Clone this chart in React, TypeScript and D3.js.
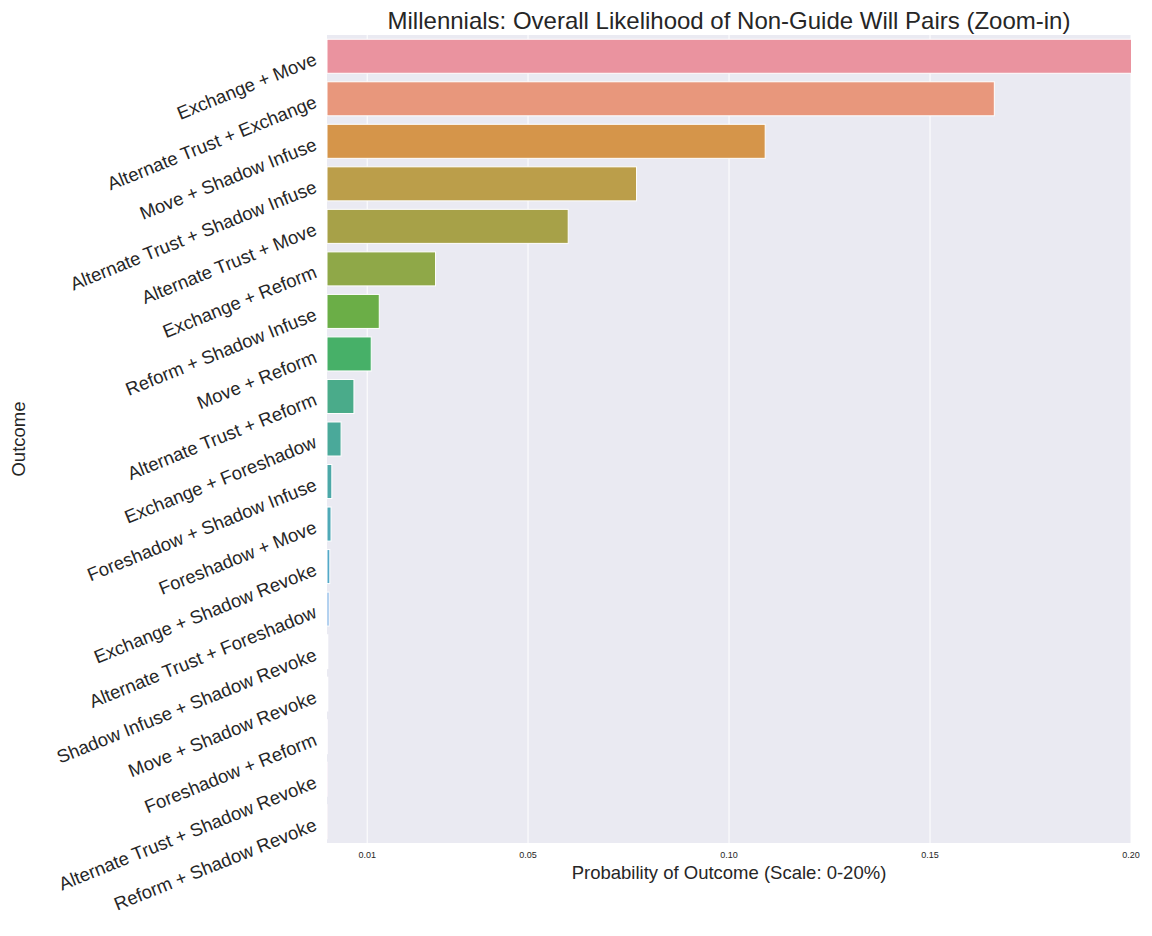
import React from "react";
import * as d3 from "d3";

const categories = ["Exchange + Move","Alternate Trust + Exchange","Move + Shadow Infuse","Alternate Trust + Shadow Infuse","Alternate Trust + Move","Exchange + Reform","Reform + Shadow Infuse","Move + Reform","Alternate Trust + Reform","Exchange + Foreshadow","Foreshadow + Shadow Infuse","Foreshadow + Move","Exchange + Shadow Revoke","Alternate Trust + Foreshadow","Shadow Infuse + Shadow Revoke","Move + Shadow Revoke","Foreshadow + Reform","Alternate Trust + Shadow Revoke","Reform + Shadow Revoke"];
const values = [0.205,0.166,0.109,0.077,0.060,0.027,0.013,0.011,0.0067,0.0035,0.0012,0.001,0.0007,0.0005,0.0002,0.0002,0.0001,0.00005,0.00003];
const colors = ["#ea939f","#e8977c","#d5954a","#bb9e4a","#a7a148","#8fa848","#6bae47","#47b068","#4aab8a","#4aa99a","#4ca8a8","#4fa9b7","#53a9c8","#6aa5e0","#a19ee8","#c092e6","#d88fde","#e690c5","#e892b2"];
const ticks = [0.01,0.05,0.10,0.15,0.20];
const tickLabels = ["0.01","0.05","0.10","0.15","0.20"];

export default function App() {
  const L = 327, R = 1131, T = 35, B = 843;
  const x = d3.scaleLinear().domain([0, 0.2]).range([L, R]);
  const y = d3.scaleBand().domain(categories).range([T, B]).paddingInner(0.2).paddingOuter(0.1);
  const font = "Arial, 'Liberation Sans', sans-serif";
  return (
    <svg width={1152} height={936} style={{ position: "absolute", left: 0, top: 0, fontFamily: font }}>
      <defs><clipPath id="c"><rect x={L} y={T} width={R - L} height={B - T} /></clipPath></defs>
      <rect x={L} y={T} width={R - L} height={B - T} fill="#eaeaf2" />
      {ticks.map((t) => <line key={t} x1={x(t)} x2={x(t)} y1={T} y2={B} stroke="#fff" strokeWidth={1} />)}
      <g clipPath="url(#c)">
        {categories.map((c, i) => (
          <rect key={c} x={x(0)} y={y(c)!} width={Math.max(0, x(values[i]) - x(0))} height={y.bandwidth()} fill={colors[i]} stroke="#fff" strokeWidth={1} />
        ))}
      </g>
      {ticks.map((t, i) => <text key={t} x={x(t)} y={B + 15} fontSize={9} textAnchor="middle" fill="#262626">{tickLabels[i]}</text>)}
      {categories.map((c) => {
        const cy = y(c)! + y.bandwidth() / 2;
        return <text key={c} transform={`translate(${L - 9},${cy + 8}) rotate(-22)`} fontSize={18.5} textAnchor="end" fill="#262626">{c}</text>;
      })}
      <text x={(L + R) / 2} y={879} fontSize={18.5} textAnchor="middle" fill="#262626">Probability of Outcome (Scale: 0-20%)</text>
      <text transform={`translate(25,${(T + B) / 2}) rotate(-90)`} fontSize={18.5} textAnchor="middle" fill="#262626">Outcome</text>
      <text x={(L + R) / 2} y={29} fontSize={24} textAnchor="middle" fill="#262626">Millennials: Overall Likelihood of Non-Guide Will Pairs (Zoom-in)</text>
    </svg>
  );
}
